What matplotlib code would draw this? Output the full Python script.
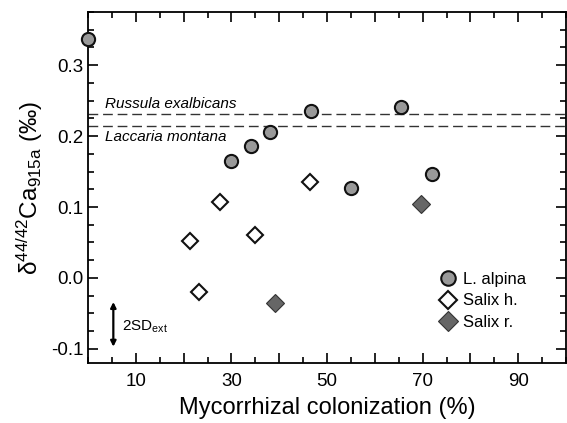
import matplotlib
matplotlib.use("Agg")
import matplotlib.pyplot as plt
from matplotlib.ticker import MultipleLocator, FixedLocator

plt.rcParams['font.family'] = ['Liberation Sans', 'DejaVu Sans']
plt.rcParams['mathtext.fontset'] = 'custom'
plt.rcParams['mathtext.rm'] = 'Liberation Sans'
plt.rcParams['mathtext.it'] = 'Liberation Sans:italic'

# Data
alpina_x = [0.0, 30.0, 34.1, 38.1, 46.7, 65.5, 55.0, 71.9]
alpina_y = [0.337, 0.165, 0.186, 0.206, 0.235, 0.241, 0.127, 0.146]
salixh_x = [27.7, 21.4, 35.0, 23.2, 46.4]
salixh_y = [0.107, 0.052, 0.061, -0.020, 0.135]
salixr_x = [39.2, 69.6]
salixr_y = [-0.035, 0.104]
russula_y = 0.231
laccaria_y = 0.214
sd_low, sd_high = -0.097, -0.034
xtick_labels = [10, 30, 50, 70, 90]
xtick_major = [10, 20, 30, 40, 50, 60, 70, 80, 90]

fig = plt.figure(figsize=(5.67, 4.23), dpi=100)
ax = fig.add_axes([88/567, 1 - 363/423, (566-88)/567, (363-12)/423])

ax.axhline(russula_y, color='#333333', ls=(0, (7, 3.5)), lw=1.0)
ax.axhline(laccaria_y, color='#333333', ls=(0, (7, 3.5)), lw=1.0)
ax.text(3.5, russula_y + 0.004, 'Russula exalbicans', style='italic', fontsize=11, va='bottom')
ax.text(3.5, laccaria_y - 0.006, 'Laccaria montana', style='italic', fontsize=11, va='top')

ax.plot(alpina_x, alpina_y, 'o', ms=9.5, mfc='#999999', mec='#111111', mew=1.5,
        ls='none', clip_on=False, label='L. alpina', zorder=5)
ax.plot(salixh_x, salixh_y, 'D', ms=8.5, mfc='white', mec='#111111', mew=1.5,
        ls='none', clip_on=False, label='Salix h.', zorder=5)
ax.plot(salixr_x, salixr_y, 'D', ms=9.5, mfc='#666666', mec='#333333', mew=0.8,
        ls='none', clip_on=False, label='Salix r.', zorder=5)

ax.annotate('', xy=(5.3, sd_low), xytext=(5.3, sd_high),
            arrowprops=dict(arrowstyle='<|-|>', color='black', lw=1.6,
                            mutation_scale=8, shrinkA=0, shrinkB=0))
ax.text(7.2, (sd_low + sd_high) / 2 - 0.004, '2SD$_{\\mathrm{ext}}$', fontsize=11, va='center')

ax.set_xlim(0, 100)
ax.set_ylim(-0.12, 0.375)
ax.xaxis.set_major_locator(FixedLocator(xtick_major))
ax.set_xticklabels([str(v) if v in xtick_labels else '' for v in xtick_major])
ax.xaxis.set_minor_locator(MultipleLocator(5))
ax.yaxis.set_minor_locator(MultipleLocator(0.025))
ax.set_yticks([-0.1, 0.0, 0.1, 0.2, 0.3])
ax.set_yticklabels(['-0.1', '0.0', '0.1', '0.2', '0.3'])

ax.tick_params(which='both', direction='in', top=True, right=True, labelsize=13.5, width=1.2)
ax.tick_params(which='major', length=7)
ax.tick_params(which='minor', length=4)
ax.tick_params(axis='x', which='major', pad=7)
for s in ax.spines.values():
    s.set_linewidth(1.3)

ax.set_xlabel('Mycorrhizal colonization (%)', fontsize=17, labelpad=5)
ax.set_ylabel('δ$^{44/42}$Ca$_{\\mathrm{915a}}$ (‰)', fontsize=17.5, labelpad=4)

ax.legend(loc='lower right', bbox_to_anchor=(0.935, 0.07), frameon=False, fontsize=12,
          handletextpad=0.3, labelspacing=0.4, handlelength=1.2, borderpad=0,
          markerscale=1.1)

fig.savefig('out.png', dpi=100)
